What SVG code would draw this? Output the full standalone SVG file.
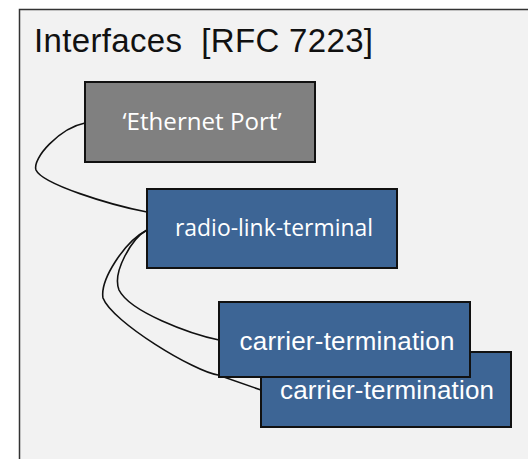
<svg xmlns="http://www.w3.org/2000/svg" width="528" height="459" viewBox="0 0 528 459">
<style>
.node{stroke:#111;stroke-width:2}
.blue{fill:#3d6595}
.gray{fill:#808080}
.lbl{fill:#fff;text-anchor:middle}
.arial{font-family:"Liberation Sans",Arial,sans-serif;font-size:26px}
.cal{font-family:"Open Sans","Noto Sans",sans-serif;font-size:24px}
.conn{fill:none;stroke:#111;stroke-width:1.6}
</style>
<rect x="0" y="0" width="528" height="459" fill="#ffffff"/>
<g id="frame">
<rect x="19.5" y="9.5" width="520" height="460" fill="#f2f2f2" stroke="#333" stroke-width="1.5"/>
<text x="34" y="52" font-family="Liberation Sans,Arial,sans-serif" font-size="33" fill="#111" textLength="339" xml:space="preserve">Interfaces  [RFC 7223]</text>
</g>
<g id="connectors">
<path class="conn" d="M85,123 C60,128 32,158 36,170 C42,184 110,205 147,212"/>
<path class="conn" d="M147,230 C132,238 112,272 119,290 C130,312 190,334 219,340"/>
<path class="conn" d="M147,230 C124,242 100,280 103,298 C112,322 195,372 218,375 L261,390"/>
</g>
<g id="ethernet-port">
<rect class="node gray" x="85" y="82" width="230" height="80"/>
<text class="lbl cal" x="202" y="130" textLength="159" lengthAdjust="spacingAndGlyphs">‘Ethernet Port’</text>
</g>
<g id="radio-link-terminal">
<rect class="node blue" x="147" y="189" width="250" height="79"/>
<text class="lbl cal" x="274" y="236" textLength="198" lengthAdjust="spacingAndGlyphs">radio-link-terminal</text>
</g>
<g id="carrier-termination-2">
<rect class="node blue" x="261" y="352" width="250" height="75"/>
<text class="lbl arial" x="387" y="399" textLength="214">carrier-termination</text>
</g>
<g id="carrier-termination-1">
<rect class="node blue" x="219" y="302" width="251" height="75"/>
<text class="lbl arial" x="347" y="350" textLength="215">carrier-termination</text>
</g>
</svg>
